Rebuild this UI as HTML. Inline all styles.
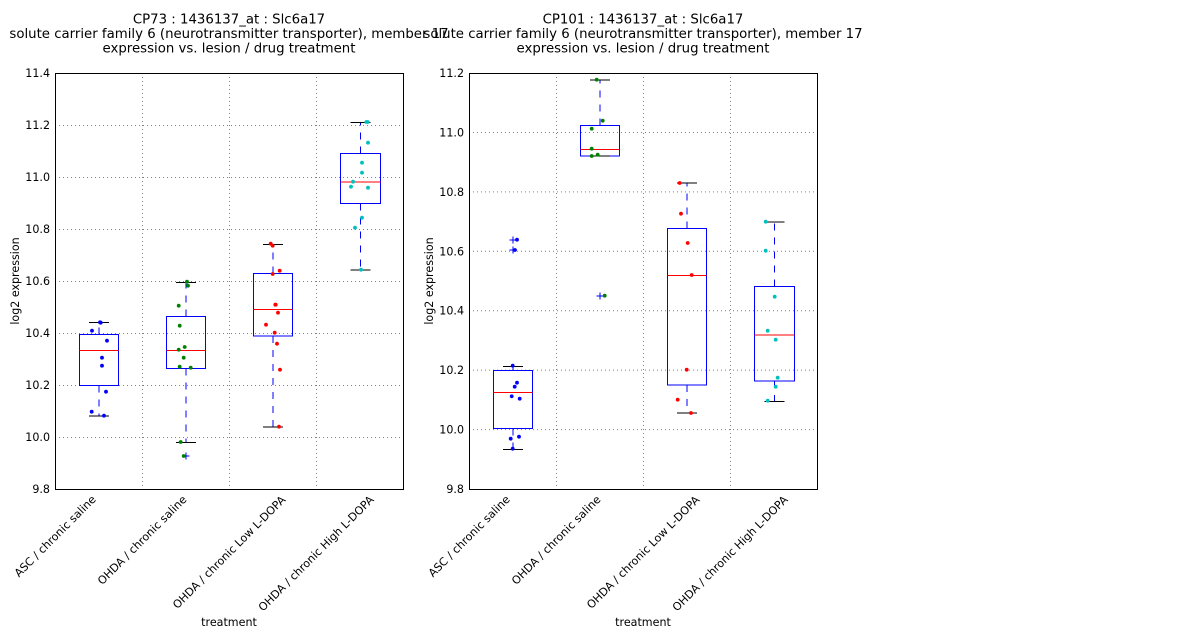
<!DOCTYPE html>
<html>
<head>
<meta charset="utf-8">
<style>
html,body{margin:0;padding:0;background:#fff;}
svg{display:block;}
text{font-family:"DejaVu Sans","Liberation Sans",sans-serif;fill:#000;}
.t{font-size:13.3px;}
.k{font-size:11.1px;}
.g{stroke:#808080;stroke-width:1;stroke-dasharray:1,3;fill:none;}
.bx{fill:none;stroke:#0000ff;stroke-width:1;}
.wh{stroke:#0000ff;stroke-width:1;stroke-dasharray:7,7;}
.cp{stroke:#000;stroke-width:1;}
.md{stroke:#ff0000;stroke-width:1;}
.fl{stroke:#0000ff;stroke-width:1;}
</style>
</head>
<body>
<svg width="1200" height="640" viewBox="0 0 1200 640" xmlns="http://www.w3.org/2000/svg">
<rect width="1200" height="640" fill="#fff"/>

<!-- ================= LEFT PANEL ================= -->
<g>
<text class="t" x="229" y="23.5" text-anchor="middle">CP73 : 1436137_at : Slc6a17</text>
<text class="t" x="229" y="38" text-anchor="middle">solute carrier family 6 (neurotransmitter transporter), member 17</text>
<text class="t" x="229" y="52.5" text-anchor="middle">expression vs. lesion / drug treatment</text>

<!-- grid -->
<line class="g" x1="142.5" y1="73" x2="142.5" y2="489"/>
<line class="g" x1="229.5" y1="73" x2="229.5" y2="489"/>
<line class="g" x1="316.5" y1="73" x2="316.5" y2="489"/>
<line class="g" x1="55" y1="125.5" x2="403" y2="125.5"/>
<line class="g" x1="55" y1="177.5" x2="403" y2="177.5"/>
<line class="g" x1="55" y1="229.5" x2="403" y2="229.5"/>
<line class="g" x1="55" y1="281.5" x2="403" y2="281.5"/>
<line class="g" x1="55" y1="333.5" x2="403" y2="333.5"/>
<line class="g" x1="55" y1="385.5" x2="403" y2="385.5"/>
<line class="g" x1="55" y1="437.5" x2="403" y2="437.5"/>

<!-- box 1 -->
<line class="wh" x1="99" y1="334.5" x2="99" y2="322.5"/>
<line class="wh" x1="99" y1="385.5" x2="99" y2="416"/>
<rect class="bx" x="79.5" y="334.5" width="39" height="51"/>
<line class="cp" x1="89" y1="322.5" x2="109" y2="322.5"/>
<line class="cp" x1="89" y1="416" x2="109" y2="416"/>
<line class="md" x1="79.5" y1="350.5" x2="118.5" y2="350.5"/>

<!-- box 2 -->
<line class="wh" x1="186" y1="316.5" x2="186" y2="282.5"/>
<line class="wh" x1="186" y1="368.5" x2="186" y2="442.5"/>
<rect class="bx" x="166.5" y="316.5" width="39" height="52"/>
<line class="cp" x1="176" y1="282.5" x2="196" y2="282.5"/>
<line class="cp" x1="176" y1="442.5" x2="196" y2="442.5"/>
<line class="md" x1="166.5" y1="350.5" x2="205.5" y2="350.5"/>
<path class="fl" d="M182.5 456H189.5M186 452.5V459.5"/>

<!-- box 3 -->
<line class="wh" x1="273" y1="273.5" x2="273" y2="244.5"/>
<line class="wh" x1="273" y1="336" x2="273" y2="427"/>
<rect class="bx" x="253.5" y="273.5" width="39" height="62.5"/>
<line class="cp" x1="263" y1="244.5" x2="283" y2="244.5"/>
<line class="cp" x1="263" y1="427" x2="283" y2="427"/>
<line class="md" x1="253.5" y1="309.5" x2="292.5" y2="309.5"/>

<!-- box 4 -->
<line class="wh" x1="360.5" y1="153.5" x2="360.5" y2="122.5"/>
<line class="wh" x1="360.5" y1="203.5" x2="360.5" y2="270"/>
<rect class="bx" x="340.5" y="153.5" width="40" height="50"/>
<line class="cp" x1="350.5" y1="122.5" x2="370.5" y2="122.5"/>
<line class="cp" x1="350.5" y1="270" x2="370.5" y2="270"/>
<line class="md" x1="340.5" y1="182" x2="380.5" y2="182"/>

<!-- points -->
<g fill="#0000ff">
<circle cx="100" cy="322.3" r="1.9"/><circle cx="100.7" cy="322.7" r="1.9"/>
<circle cx="92" cy="330.7" r="1.9"/><circle cx="107" cy="340.7" r="1.9"/>
<circle cx="102" cy="357.7" r="1.9"/><circle cx="102" cy="365.7" r="1.9"/>
<circle cx="106" cy="391.7" r="1.9"/><circle cx="91.7" cy="411.7" r="1.9"/>
<circle cx="104" cy="415.7" r="1.9"/>
</g>
<g fill="#008000">
<circle cx="187" cy="281.7" r="1.9"/><circle cx="188" cy="285.7" r="1.9"/>
<circle cx="178.7" cy="305.7" r="1.9"/><circle cx="179.7" cy="325.7" r="1.9"/>
<circle cx="184.7" cy="347" r="1.9"/><circle cx="178.7" cy="349.7" r="1.9"/>
<circle cx="183.7" cy="357.7" r="1.9"/><circle cx="179.7" cy="366.7" r="1.9"/>
<circle cx="190.7" cy="367.7" r="1.9"/><circle cx="180.7" cy="442" r="1.9"/>
<circle cx="183.7" cy="456" r="1.9"/>
</g>
<g fill="#ff0000">
<circle cx="270.7" cy="243.7" r="1.9"/><circle cx="272.7" cy="245.7" r="1.9"/>
<circle cx="279.7" cy="270.7" r="1.9"/><circle cx="272.7" cy="274" r="1.9"/>
<circle cx="275.3" cy="304.7" r="1.9"/><circle cx="275.7" cy="304.7" r="1.9"/>
<circle cx="278" cy="312.7" r="1.9"/><circle cx="266" cy="324.7" r="1.9"/>
<circle cx="274.7" cy="332.7" r="1.9"/><circle cx="277" cy="343.7" r="1.9"/>
<circle cx="280" cy="369.7" r="1.9"/><circle cx="279" cy="426.7" r="1.9"/>
</g>
<g fill="#00bfbf">
<circle cx="366.3" cy="122" r="1.9"/><circle cx="367.7" cy="122" r="1.9"/>
<circle cx="368" cy="142.7" r="1.9"/><circle cx="362" cy="162.7" r="1.9"/>
<circle cx="362" cy="172.7" r="1.9"/><circle cx="353" cy="181.7" r="1.9"/>
<circle cx="351" cy="186.7" r="1.9"/><circle cx="368" cy="187.7" r="1.9"/>
<circle cx="362" cy="217.7" r="1.9"/><circle cx="355" cy="227.7" r="1.9"/>
<circle cx="361" cy="269.7" r="1.9"/>
</g>

<!-- frame -->
<rect x="55.5" y="73.5" width="348" height="416" fill="none" stroke="#000" stroke-width="1"/>

<!-- y ticks -->
<g class="k" text-anchor="end">
<text class="k" x="50" y="77">11.4</text>
<text class="k" x="50" y="129">11.2</text>
<text class="k" x="50" y="181">11.0</text>
<text class="k" x="50" y="233">10.8</text>
<text class="k" x="50" y="285">10.6</text>
<text class="k" x="50" y="337">10.4</text>
<text class="k" x="50" y="389">10.2</text>
<text class="k" x="50" y="441">10.0</text>
<text class="k" x="50" y="493">9.8</text>
</g>
<text class="k" transform="translate(19,281) rotate(-90)" text-anchor="middle">log2 expression</text>

<!-- x labels -->
<text class="k" transform="translate(55,536.1) rotate(-45)" x="0" y="3.9" text-anchor="middle">ASC / chronic saline</text>
<text class="k" transform="translate(142,540) rotate(-45)" x="0" y="3.9" text-anchor="middle">OHDA / chronic saline</text>
<text class="k" transform="translate(229,552.2) rotate(-45)" x="0" y="3.9" text-anchor="middle">OHDA / chronic Low L-DOPA</text>
<text class="k" transform="translate(316,553.4) rotate(-45)" x="0" y="3.9" text-anchor="middle">OHDA / chronic High L-DOPA</text>
<text class="k" x="229" y="626" text-anchor="middle">treatment</text>
</g>

<!-- ================= RIGHT PANEL ================= -->
<g>
<text class="t" x="643" y="23.5" text-anchor="middle">CP101 : 1436137_at : Slc6a17</text>
<text class="t" x="643" y="38" text-anchor="middle">solute carrier family 6 (neurotransmitter transporter), member 17</text>
<text class="t" x="643" y="52.5" text-anchor="middle">expression vs. lesion / drug treatment</text>

<!-- grid -->
<line class="g" x1="556.5" y1="73" x2="556.5" y2="489"/>
<line class="g" x1="643.5" y1="73" x2="643.5" y2="489"/>
<line class="g" x1="730.5" y1="73" x2="730.5" y2="489"/>
<line class="g" x1="469" y1="132.5" x2="817" y2="132.5"/>
<line class="g" x1="469" y1="191.9" x2="817" y2="191.9"/>
<line class="g" x1="469" y1="251.3" x2="817" y2="251.3"/>
<line class="g" x1="469" y1="310.7" x2="817" y2="310.7"/>
<line class="g" x1="469" y1="370.1" x2="817" y2="370.1"/>
<line class="g" x1="469" y1="429.6" x2="817" y2="429.6"/>

<!-- box 1 -->
<line class="wh" x1="513" y1="370.5" x2="513" y2="366.5"/>
<line class="wh" x1="513" y1="428.5" x2="513" y2="449.5"/>
<rect class="bx" x="493.5" y="370.5" width="39" height="58"/>
<line class="cp" x1="503" y1="366.5" x2="523" y2="366.5"/>
<line class="cp" x1="503" y1="449.5" x2="523" y2="449.5"/>
<line class="md" x1="493.5" y1="392.5" x2="532.5" y2="392.5"/>
<path class="fl" d="M509.5 240H516.5M513 236.5V243.5"/>
<path class="fl" d="M509.5 250H516.5M513 246.5V253.5"/>

<!-- box 2 -->
<line class="wh" x1="600" y1="125.5" x2="600" y2="80"/>
<rect class="bx" x="580.5" y="125.5" width="39" height="30.5"/>
<line class="cp" x1="590" y1="80" x2="610" y2="80"/>
<line class="cp" x1="590" y1="156" x2="610" y2="156"/>
<line class="md" x1="580.5" y1="149.5" x2="619.5" y2="149.5"/>
<path class="fl" d="M596.5 296H603.5M600 292.5V299.5"/>

<!-- box 3 -->
<line class="wh" x1="687" y1="228.5" x2="687" y2="183"/>
<line class="wh" x1="687" y1="385" x2="687" y2="413"/>
<rect class="bx" x="667.5" y="228.5" width="39" height="156.5"/>
<line class="cp" x1="677" y1="183" x2="697" y2="183"/>
<line class="cp" x1="677" y1="413" x2="697" y2="413"/>
<line class="md" x1="667.5" y1="275.5" x2="706.5" y2="275.5"/>

<!-- box 4 -->
<line class="wh" x1="774.5" y1="286.5" x2="774.5" y2="222"/>
<line class="wh" x1="774.5" y1="381" x2="774.5" y2="401.5"/>
<rect class="bx" x="754.5" y="286.5" width="40" height="94.5"/>
<line class="cp" x1="764.5" y1="222" x2="784.5" y2="222"/>
<line class="cp" x1="764.5" y1="401.5" x2="784.5" y2="401.5"/>
<line class="md" x1="754.5" y1="335" x2="794.5" y2="335"/>

<!-- points -->
<g fill="#0000ff">
<circle cx="517" cy="239.7" r="1.9"/><circle cx="515" cy="250" r="1.9"/>
<circle cx="512.7" cy="365.7" r="1.9"/><circle cx="517" cy="382.7" r="1.9"/>
<circle cx="514.7" cy="386.7" r="1.9"/><circle cx="511.7" cy="396.3" r="1.9"/>
<circle cx="519.7" cy="398.7" r="1.9"/><circle cx="519" cy="436.7" r="1.9"/>
<circle cx="510.7" cy="438.7" r="1.9"/><circle cx="512.7" cy="448.7" r="1.9"/>
</g>
<g fill="#008000">
<circle cx="596.7" cy="79.7" r="1.9"/><circle cx="602.7" cy="120.7" r="1.9"/>
<circle cx="591.7" cy="128.7" r="1.9"/><circle cx="591.7" cy="148.7" r="1.9"/>
<circle cx="591.7" cy="156" r="1.9"/><circle cx="597.7" cy="154.7" r="1.9"/>
<circle cx="604.7" cy="295.7" r="1.9"/>
</g>
<g fill="#ff0000">
<circle cx="679.7" cy="183" r="1.9"/><circle cx="681" cy="213.7" r="1.9"/>
<circle cx="687.7" cy="243" r="1.9"/><circle cx="691.7" cy="275" r="1.9"/>
<circle cx="686.7" cy="369.7" r="1.9"/><circle cx="677.7" cy="399.7" r="1.9"/>
<circle cx="691" cy="413" r="1.9"/>
</g>
<g fill="#00bfbf">
<circle cx="765.7" cy="221.7" r="1.9"/><circle cx="765.7" cy="250.7" r="1.9"/>
<circle cx="774.7" cy="296.7" r="1.9"/><circle cx="767.7" cy="330.7" r="1.9"/>
<circle cx="775.7" cy="339.7" r="1.9"/><circle cx="777.7" cy="377.7" r="1.9"/>
<circle cx="775.7" cy="386.7" r="1.9"/><circle cx="767.7" cy="400.7" r="1.9"/>
</g>

<!-- frame -->
<rect x="469.5" y="73.5" width="348" height="416" fill="none" stroke="#000" stroke-width="1"/>

<!-- y ticks -->
<g text-anchor="end">
<text class="k" x="464" y="77">11.2</text>
<text class="k" x="464" y="136.4">11.0</text>
<text class="k" x="464" y="195.9">10.8</text>
<text class="k" x="464" y="255.3">10.6</text>
<text class="k" x="464" y="314.7">10.4</text>
<text class="k" x="464" y="374.1">10.2</text>
<text class="k" x="464" y="433.6">10.0</text>
<text class="k" x="464" y="493">9.8</text>
</g>
<text class="k" transform="translate(433,281) rotate(-90)" text-anchor="middle">log2 expression</text>

<!-- x labels -->
<text class="k" transform="translate(469,536.1) rotate(-45)" x="0" y="3.9" text-anchor="middle">ASC / chronic saline</text>
<text class="k" transform="translate(556,540) rotate(-45)" x="0" y="3.9" text-anchor="middle">OHDA / chronic saline</text>
<text class="k" transform="translate(643,552.2) rotate(-45)" x="0" y="3.9" text-anchor="middle">OHDA / chronic Low L-DOPA</text>
<text class="k" transform="translate(730,553.4) rotate(-45)" x="0" y="3.9" text-anchor="middle">OHDA / chronic High L-DOPA</text>
<text class="k" x="643" y="626" text-anchor="middle">treatment</text>
</g>
</svg>
</body>
</html>
